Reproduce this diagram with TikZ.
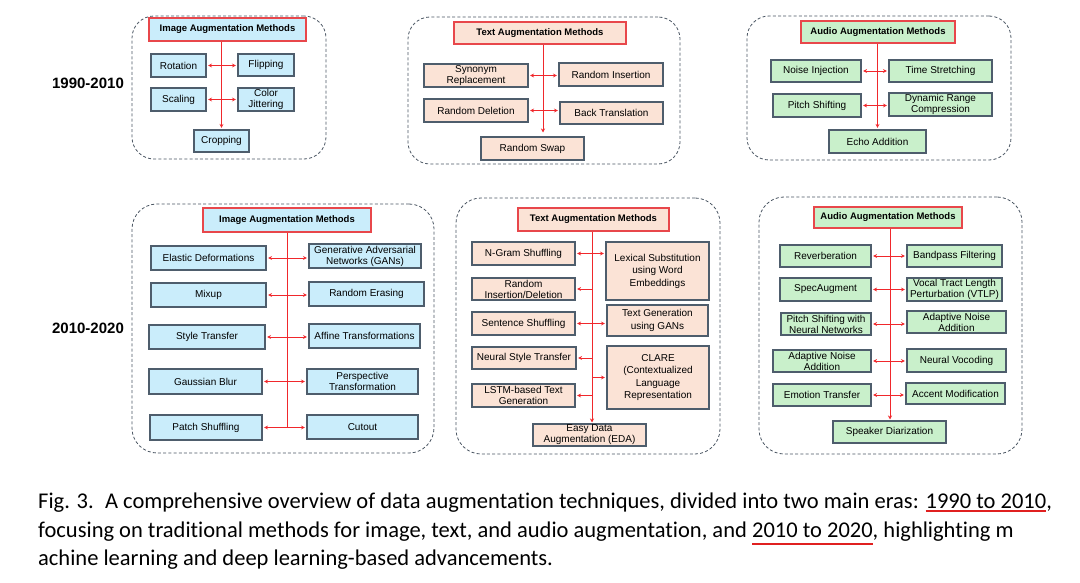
\documentclass[tikz,border=0pt]{standalone}
\usepackage{fontspec}
\setmainfont{Liberation Sans}
\newfontfamily\capfont[Ligatures=NoCommon]{Carlito}
\usetikzlibrary{arrows.meta}
\definecolor{imgfill}{HTML}{CAEDFB}
\definecolor{txtfill}{HTML}{FBE3D6}
\definecolor{audfill}{HTML}{C9F0CB}
\definecolor{edgegray}{HTML}{4E5D6C}
\definecolor{headred}{HTML}{E8474B}
\definecolor{linkred}{HTML}{F0282C}
\definecolor{framegray}{HTML}{4A5562}
\definecolor{ulred}{HTML}{E02020}
\newcommand\redul[2][4pt]{\setbox0\hbox{#2}\rlap{\color{ulred}\rule[-#1]{\wd0}{2.4pt}}#2}
\tikzstyle{box}=[draw=edgegray, line width=1.1pt, inner sep=0pt, align=center, font=\fontsize{10}{11}\selectfont]
\tikzstyle{ibox}=[box, fill=imgfill]
\tikzstyle{tbox}=[box, fill=txtfill]
\tikzstyle{abox}=[box, fill=audfill]
\tikzstyle{titlebox}=[box, draw=headred, font=\fontsize{9.5}{11}\selectfont\bfseries]
\tikzstyle{eraframe}=[draw=framegray, line width=0.8pt, dash pattern=on 3pt off 2.2pt, rounded corners=22pt]
\tikzstyle{eralabel}=[font=\fontsize{15}{17}\selectfont\bfseries]
\tikzstyle{redline}=[linkred, line width=0.9pt]
\tikzstyle{twoway}=[redline, {Stealth[length=4pt,width=4pt]}-{Stealth[length=4pt,width=4pt]}, shorten <=1.5pt, shorten >=1.5pt]
\tikzstyle{oneway}=[redline, -{Stealth[length=4pt,width=4pt]}, shorten >=1.5pt]
\tikzstyle{captext}=[inner sep=0pt, anchor=base west, font=\capfont\fontsize{22.5}{25}\selectfont]

\begin{document}
\begin{tikzpicture}[x=1pt, y=-1pt]
	\useasboundingbox (0,0) rectangle (1080,583);

	\node (e1) [eralabel] at (88,83) {1990-2010};
	\node (e2) [eralabel] at (88,328) {2010-2020};

	\node (f1) [eraframe, minimum width=194, minimum height=143] at (229,87.5) {};
	\node (f2) [eraframe, minimum width=272, minimum height=147] at (544,90.5) {};
	\node (f3) [eraframe, minimum width=264, minimum height=144] at (879,88) {};
	\node (f4) [eraframe, minimum width=302, minimum height=249, rounded corners=25pt] at (283,328.5) {};
	\node (f5) [eraframe, minimum width=264, minimum height=256, rounded corners=25pt] at (588,326) {};
	\node (f6) [eraframe, minimum width=263, minimum height=257, rounded corners=25pt] at (890.5,325.5) {};

	\node (i0) [titlebox, fill=imgfill, minimum width=157, minimum height=23] at (227.5,29.5) {Image Augmentation Methods};
	\node (i1) [ibox, minimum width=55, minimum height=23] at (178.5,65.5) {Rotation};
	\node (i2) [ibox, minimum width=56, minimum height=22] at (266,65) {Flipping};
	\node (i3) [ibox, minimum width=55, minimum height=23] at (178.5,99.5) {Scaling};
	\node (i4) [ibox, minimum width=56, minimum height=23] at (266,99.5) {Color\\Jittering};
	\node (i5) [ibox, minimum width=55, minimum height=22] at (221.5,141) {Cropping};
	\draw [oneway] (i0.south -| i5.north) to (i5.north);
	\draw [twoway] (i1.east) to (i1.east -| i2.west);
	\draw [twoway] (i3.east) to (i3.east -| i4.west);

	\node (t0) [titlebox, fill=txtfill, minimum width=172, minimum height=22] at (540,33) {Text Augmentation Methods};
	\node (t1) [tbox, minimum width=104, minimum height=23] at (476,75.5) {Synonym\\Replacement};
	\node (t2) [tbox, minimum width=104, minimum height=23] at (611,74.5) {Random Insertion};
	\node (t3) [tbox, minimum width=104, minimum height=23] at (476,110.5) {Random Deletion};
	\node (t4) [tbox, minimum width=103, minimum height=22] at (611.5,113) {Back Translation};
	\node (t5) [tbox, minimum width=103, minimum height=23] at (532.5,148.5) {Random Swap};
	\coordinate (s2) at (543,134);
	\draw [oneway] (t0.south -| s2) to (s2);
	\draw [twoway] (t1.east) to (t1.east -| t2.west);
	\draw [twoway] (t3.east) to (t3.east -| t4.west);

	\node (a0) [titlebox, fill=audfill, minimum width=154, minimum height=22] at (878,32) {Audio Augmentation Methods};
	\node (a1) [abox, minimum width=90, minimum height=22] at (816,71) {Noise Injection};
	\node (a2) [abox, minimum width=103, minimum height=22] at (940.5,71) {Time Stretching};
	\node (a3) [abox, minimum width=88, minimum height=23] at (817,105.5) {Pitch Shifting};
	\node (a4) [abox, minimum width=103, minimum height=23] at (940.5,104.5) {Dynamic Range\\Compression};
	\node (a5) [abox, minimum width=97, minimum height=23] at (877.5,141.5) {Echo Addition};
	\draw [oneway] (a0.south -| a5.north) to (a5.north);
	\draw [twoway] (a1.east) to (a1.east -| a2.west);
	\draw [twoway] (a3.east) to (a3.east -| a4.west);

	\node (j0) [titlebox, fill=imgfill, minimum width=168, minimum height=24] at (287,220) {Image Augmentation Methods};
	\node (j1) [ibox, minimum width=115, minimum height=24] at (208.5,258) {Elastic Deformations};
	\node (j2) [ibox, minimum width=112, minimum height=24] at (365,256) {Generative Adversarial\\Networks (GANs)};
	\node (j3) [ibox, minimum width=115, minimum height=24] at (208.5,295) {Mixup};
	\node (j4) [ibox, minimum width=115, minimum height=24] at (366.5,294) {Random Erasing};
	\node (j5) [ibox, minimum width=116, minimum height=24] at (207,337) {Style Transfer};
	\node (j6) [ibox, minimum width=111, minimum height=24] at (364.5,336) {Affine Transformations};
	\node (j7) [ibox, minimum width=113, minimum height=25] at (205.5,381.5) {Gaussian Blur};
	\node (j8) [ibox, minimum width=111, minimum height=25] at (362.5,381.5) {Perspective\\Transformation};
	\node (j9) [ibox, minimum width=112, minimum height=25] at (206,427.5) {Patch Shuffling};
	\node (j10) [ibox, minimum width=111, minimum height=24] at (362.5,427) {Cutout};
	\coordinate (s4) at (287,428);
	\draw [redline] (j0.south) to (s4);
	\foreach \l/\r in {j1/j2, j3/j4, j5/j6, j7/j8, j9/j10}
		\draw [twoway] (\l.east) to (\l.east -| \r.west);

	\node (k0) [titlebox, fill=txtfill, minimum width=151, minimum height=23] at (593.5,219.5) {Text Augmentation Methods};
	\node (k1) [tbox, minimum width=103, minimum height=23] at (523.5,253.5) {N-Gram Shuffling};
	\node (k2) [tbox, minimum width=103, minimum height=58, font=\fontsize{10}{12.5}\selectfont] at (657.5,271) {Lexical Substitution\\using Word\\Embeddings};
	\node (k3) [tbox, minimum width=103, minimum height=22] at (523.5,289) {Random\\Insertion/Deletion};
	\node (k4) [tbox, minimum width=103, minimum height=23] at (523.5,323.5) {Sentence Shuffling};
	\node (k5) [tbox, minimum width=101, minimum height=31, font=\fontsize{10}{12.5}\selectfont] at (657.5,320.5) {Text Generation\\using GANs};
	\node (k6) [tbox, minimum width=104, minimum height=22] at (524,358) {Neural Style Transfer};
	\node (k7) [tbox, minimum width=102, minimum height=63, font=\fontsize{10}{12.5}\selectfont] at (658,377.5) {CLARE\\(Contextualized\\Language\\Representation};
	\node (k8) [tbox, minimum width=103, minimum height=23] at (523.5,395.5) {LSTM-based Text\\Generation};
	\node (k9) [tbox, minimum width=113, minimum height=22] at (589.5,435) {Easy Data\\Augmentation (EDA)};
	\coordinate (s5) at (592,424);
	\draw [oneway] (k0.south -| s5) to (s5);
	\draw [twoway] (k1.east) to (k1.east -| k2.west);
	\draw [oneway] (k3.east -| s5) to (k3.east);
	\draw [twoway] (k4.east) to (k4.east -| k5.west);
	\draw [oneway] (k6.east -| s5) to (k6.east);
	\draw [oneway] (k7.west -| s5) to (k7.west);
	\draw [oneway] (k8.east -| s5) to (k8.east);

	\node (m0) [titlebox, fill=audfill, minimum width=148, minimum height=21] at (888,217.5) {Audio Augmentation Methods};
	\node (m1) [abox, minimum width=91, minimum height=22] at (825.5,256) {Reverberation};
	\node (m2) [abox, minimum width=95, minimum height=22] at (954.5,256) {Bandpass Filtering};
	\node (m3) [abox, minimum width=91, minimum height=23] at (825.5,289.5) {SpecAugment};
	\node (m4) [abox, minimum width=95, minimum height=23] at (954.5,289.5) {Vocal Tract Length\\Perturbation (VTLP)};
	\node (m5) [abox, minimum width=90, minimum height=22] at (826,324) {Pitch Shifting with\\Neural Networks};
	\node (m6) [abox, minimum width=99, minimum height=22] at (956.5,322) {Adaptive Noise\\Addition};
	\node (m7) [abox, minimum width=98, minimum height=22] at (822,361) {Adaptive Noise\\Addition};
	\node (m8) [abox, minimum width=99, minimum height=23] at (956.5,360.5) {Neural Vocoding};
	\node (m9) [abox, minimum width=98, minimum height=22] at (822,395) {Emotion Transfer};
	\node (m10) [abox, minimum width=99, minimum height=21] at (955.5,393.5) {Accent Modification};
	\node (m11) [abox, minimum width=113, minimum height=22] at (889.5,432) {Speaker Diarization};
	\coordinate (s6) at (890,421);
	\draw [oneway] (m0.south -| s6) to (s6);
	\foreach \l/\r in {m1/m2, m3/m4, m5/m6, m7/m8, m9/m10}
		\draw [twoway] (\l.east) to (\l.east -| \r.west);

	\node (c1) [captext] at (38,508) {Fig. 3.\enspace A comprehensive overview of data augmentation techniques, divided into two main eras: \redul{1990 to 2010},};
	\node (c2) [captext] at (38,537) {focusing on traditional methods for image, text, and audio augmentation, and \redul[8pt]{2010 to 2020}, highlighting m};
	\node (c3) [captext] at (38,565) {achine learning and deep learning-based advancements.};
\end{tikzpicture}
\end{document}
